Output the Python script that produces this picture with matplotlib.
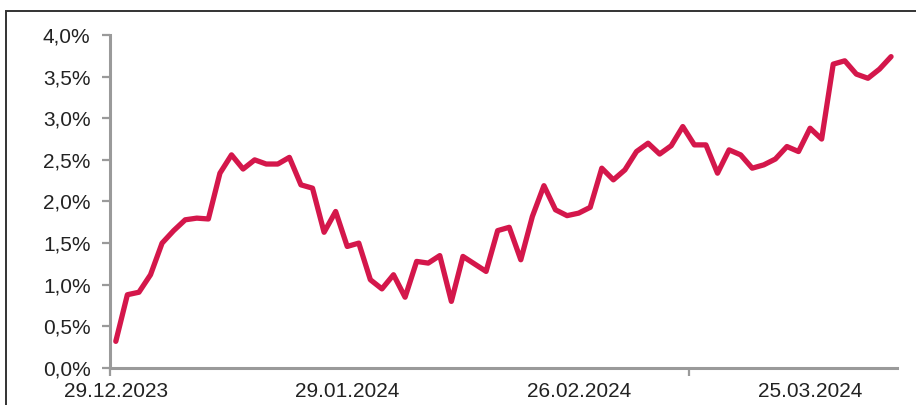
import numpy as np
import matplotlib.pyplot as plt
from matplotlib.patches import Rectangle
from matplotlib.ticker import FuncFormatter

# daily values in percent, 29.12.2023 ... early April 2024 (68 business days)
values = [0.32, 0.88, 0.91, 1.12, 1.50, 1.65, 1.78, 1.80, 1.79, 2.34,
          2.56, 2.39, 2.50, 2.45, 2.45, 2.53, 2.20, 2.16, 1.63, 1.88,
          1.46, 1.50, 1.06, 0.95, 1.12, 0.85, 1.28, 1.26, 1.35, 0.80,
          1.34, 1.25, 1.16, 1.65, 1.69, 1.30, 1.82, 2.19, 1.90, 1.83,
          1.86, 1.93, 2.40, 2.26, 2.38, 2.60, 2.70, 2.57, 2.67, 2.90,
          2.68, 2.68, 2.34, 2.62, 2.56, 2.40, 2.44, 2.51, 2.66, 2.60,
          2.88, 2.75, 3.65, 3.69, 3.53, 3.48, 3.59, 3.74]
label_pos = [0, 20, 40, 60]
label_txt = ['29.12.2023', '29.01.2024', '26.02.2024', '25.03.2024']
y_ticks = [0.0, 0.5, 1.0, 1.5, 2.0, 2.5, 3.0, 3.5, 4.0]

plt.rcParams['font.family'] = ['Liberation Sans', 'DejaVu Sans']

fig = plt.figure(figsize=(9.16, 4.05), dpi=100)
ax = fig.add_axes([0.1201, 0.0914, 0.859, 0.8222])

x = np.arange(len(values))
ax.plot(x, values, color='#D4174B', linewidth=3.8, solid_joinstyle='round',
        solid_capstyle='round', clip_on=False, zorder=3)

ax.set_xlim(-0.5, len(values) - 0.5)
ax.set_ylim(0, 4.0)

# y axis
ax.set_yticks(y_ticks)
ax.yaxis.set_major_formatter(FuncFormatter(lambda v, p: f'{v:.1f}%'.replace('.', ',')))
ax.tick_params(axis='y', length=6, width=1.6, color='#9a9a9a', pad=8,
               labelsize=15, labelcolor='#222222')

# x axis: labels every 20 days, tick marks every 50 days
ax.set_xticks(label_pos)
ax.set_xticklabels(label_txt)
ax.tick_params(axis='x', which='major', length=0, pad=10, labelsize=15,
               labelcolor='#222222')
ax.set_xticks([-0.5, 49.5], minor=True)
ax.tick_params(axis='x', which='minor', length=6, width=1.6, color='#9a9a9a')

for s in ['top', 'right']:
    ax.spines[s].set_visible(False)
for s in ['left', 'bottom']:
    ax.spines[s].set_color('#9a9a9a')
    ax.spines[s].set_linewidth(2.2)

# outer frame of the original graphic
fig.patches.append(Rectangle((6 / 916, -0.1), 1.2, 1 - 11 / 405 + 0.1,
                             transform=fig.transFigure, fill=False,
                             edgecolor='#333333', linewidth=1.4))

fig.savefig('out.png', dpi=100)
